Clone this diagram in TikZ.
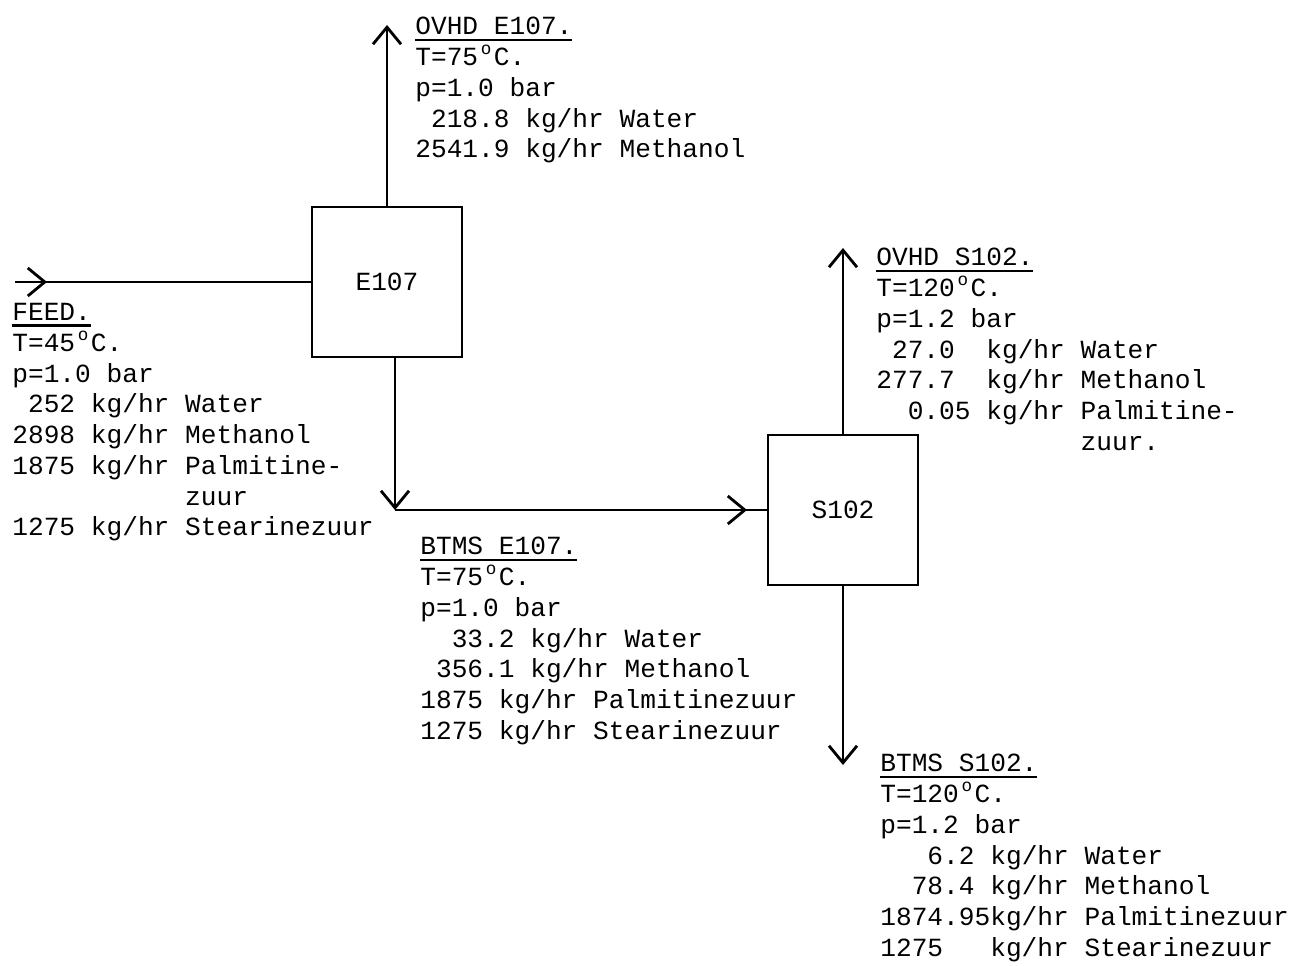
\documentclass[tikz,border=0pt]{standalone}
\usepackage{fontspec}
\usepackage{tikz}
\usetikzlibrary{arrows.meta}
\newfontfamily\typewriter{Liberation Mono}
\newcommand{\degc}{\makebox[0.6em]{\raisebox{0.42em}{\fontsize{10}{10}\selectfont o}}}
\newcommand{\streamhead}[1]{\setbox0=\hbox{#1}\rlap{\rule[-0.24em]{\wd0}{1.4pt}}\box0}

\begin{document}
\begin{tikzpicture}[x=1cm,y=1cm,
  unit/.style={draw,line width=1.6pt,minimum width=3.0cm,minimum height=3.0cm,inner sep=0pt,font=\typewriter\fontsize{14.9}{17.5}\selectfont},
  stream/.style={anchor=north west,align=left,inner sep=0pt,font=\typewriter\fontsize{14.9}{17.5}\selectfont},
  pipe/.style={line width=1.6pt},
  flow/.style={line width=1.6pt,-{Straight Barb[length=0.34cm,width=0.56cm]}}]
\path[use as bounding box] (0,0) rectangle (25.88,19.30);
% units
\node[unit] (E107) at (7.74,13.66) {E107};
\node[unit] (S102) at (16.86,9.10) {S102};
% stream ends
\coordinate (feedin) at (0.30,13.66);
\coordinate (feedtip) at (0.94,13.66);
\coordinate (ovhdEtip) at (7.74,18.80);
\coordinate (btmsEbend) at (7.90,9.10);
\coordinate (btmsEtip) at (14.94,9.10);
\coordinate (ovhdStip) at (16.86,14.34);
\coordinate (btmsStip) at (16.86,4.00);
% streams
\draw[pipe] (feedin) -- (E107.west);
\draw[flow] (feedin) -- (feedtip);
\draw[flow] (E107.north) -- (ovhdEtip);
\draw[flow] (E107.south -| btmsEbend) -- (btmsEbend);
\draw[pipe] (btmsEbend) -- (S102.west);
\draw[flow] (btmsEbend) -- (btmsEtip);
\draw[flow] (S102.north) -- (ovhdStip);
\draw[flow] (S102.south) -- (btmsStip);
% stream data
\node[stream] (ovhdE) at (8.30,18.96) {\streamhead{OVHD E107.}\\T=75\degc C.\\p=1.0 bar\\\phantom{0}218.8 kg/hr Water\\2541.9 kg/hr Methanol};
\node[stream] (feed) at (0.24,13.24) {\streamhead{FEED.}\\T=45\degc C.\\p=1.0 bar\\\phantom{0}252 kg/hr Water\\2898 kg/hr Methanol\\1875 kg/hr Palmitine-\\\phantom{1875 kg/hr }zuur\\1275 kg/hr Stearinezuur};
\node[stream] (ovhdS) at (17.52,14.34) {\streamhead{OVHD S102.}\\T=120\degc C.\\p=1.2 bar\\\phantom{0}27.0\phantom{0} kg/hr Water\\277.7\phantom{0} kg/hr Methanol\\\phantom{00}0.05 kg/hr Palmitine-\\\phantom{277.70 kg/hr }zuur.};
\node[stream] (btmsE) at (8.40,8.56) {\streamhead{BTMS E107.}\\T=75\degc C.\\p=1.0 bar\\\phantom{00}33.2 kg/hr Water\\\phantom{0}356.1 kg/hr Methanol\\1875 kg/hr Palmitinezuur\\1275 kg/hr Stearinezuur};
\node[stream] (btmsS) at (17.60,4.22) {\streamhead{BTMS S102.}\\T=120\degc C.\\p=1.2 bar\\\phantom{000}6.2 kg/hr Water\\\phantom{00}78.4 kg/hr Methanol\\1874.95kg/hr Palmitinezuur\\1275\phantom{00} kg/hr Stearinezuur};
\end{tikzpicture}
\end{document}
